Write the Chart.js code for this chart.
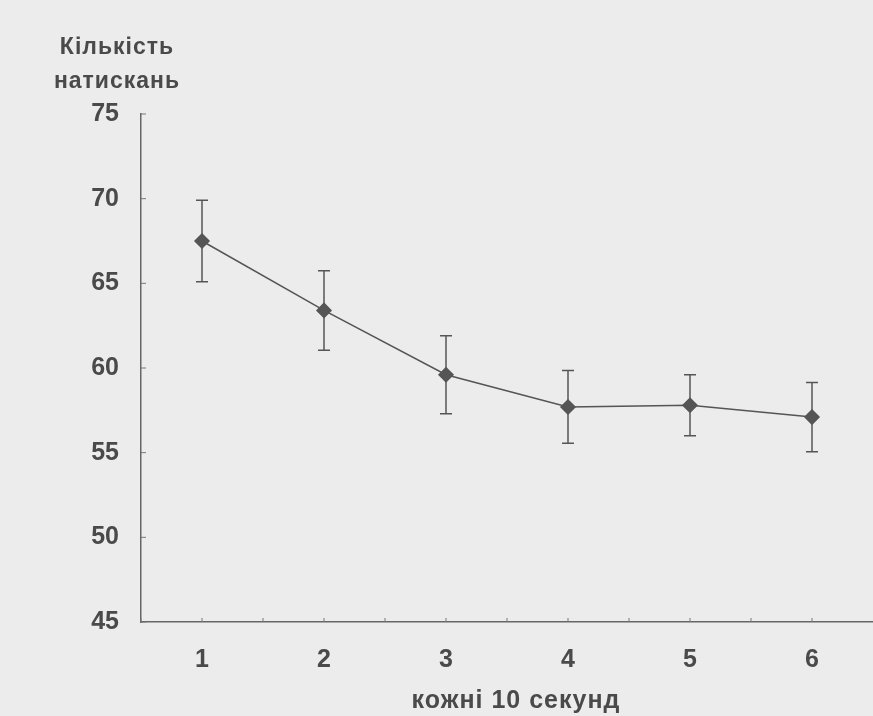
<!DOCTYPE html>
<html>
<head>
<meta charset="utf-8">
<script src="https://cdn.jsdelivr.net/npm/chart.js@4/dist/chart.umd.min.js"></script>
<style>
  html, body { margin: 0; padding: 0; background: #ececec; }
  #wrap { width: 873px; height: 716px; }
</style>
</head>
<body>
<div id="wrap"><canvas id="g_clicks" width="873" height="716"></canvas></div>
<script>
// donnees
let categories = ['1', '2', '3', '4', '5', '6'];
let moyennes = [67.5, 63.4, 59.6, 57.7, 57.8, 57.1];
let erreurs = [2.4, 2.35, 2.3, 2.15, 1.8, 2.05];
let yTicks = [45, 50, 55, 60, 65, 70, 75];
let titreY = ['Кількість', 'натискань'];
let titreX = 'кожні 10 секунд';

Chart.defaults.font.family = "'Liberation Sans', Arial, sans-serif";
Chart.defaults.font.weight = 'bold';
Chart.defaults.color = '#4a4a4a';

const gris = '#555555';

// barres d'erreur + petites graduations vers l'interieur + titres
let extras = {
    id: 'extras',
    afterDatasetsDraw(chart) {
        let ctx = chart.ctx;
        let x = chart.scales.x;
        let y = chart.scales.y;
        ctx.save();
        ctx.strokeStyle = gris;
        ctx.lineWidth = 1.5;
        for (let i = 0; i < moyennes.length; i++) {
            let px = x.getPixelForValue(i);
            let haut = y.getPixelForValue(moyennes[i] + erreurs[i]);
            let bas = y.getPixelForValue(moyennes[i] - erreurs[i]);
            ctx.beginPath();
            ctx.moveTo(px, haut); ctx.lineTo(px, bas);
            ctx.moveTo(px - 6, haut); ctx.lineTo(px + 6, haut);
            ctx.moveTo(px - 6, bas); ctx.lineTo(px + 6, bas);
            ctx.stroke();
        }
        ctx.restore();
    },
    afterDraw(chart) {
        let ctx = chart.ctx;
        let x = chart.scales.x;
        let y = chart.scales.y;
        let area = chart.chartArea;
        ctx.save();
        ctx.strokeStyle = '#777';
        ctx.lineWidth = 1;
        ctx.beginPath();
        yTicks.forEach(v => {
            let py = y.getPixelForValue(v);
            ctx.moveTo(area.left, py); ctx.lineTo(area.left + 5, py);
        });
        let demi = (x.getPixelForValue(1) - x.getPixelForValue(0)) / 2;
        for (let i = 0; i < categories.length; i++) {
            let px = x.getPixelForValue(i);
            ctx.moveTo(px, area.bottom); ctx.lineTo(px, area.bottom - 4);
            ctx.moveTo(px - demi, area.bottom); ctx.lineTo(px - demi, area.bottom - 4);
        }
        ctx.stroke();
        // titre de l'axe y en deux lignes, titre de l'axe x
        ctx.fillStyle = '#4a4a4a';
        ctx.font = "bold 23px 'Liberation Sans', Arial, sans-serif";
        ctx.letterSpacing = '1px';
        ctx.textAlign = 'center';
        ctx.textBaseline = 'alphabetic';
        ctx.fillText(titreY[0], area.left - 24, 54);
        ctx.fillText(titreY[1], area.left - 24, 88);
        ctx.font = "bold 25px 'Liberation Sans', Arial, sans-serif";
        ctx.fillText(titreX, (area.left + area.right) / 2 + 9, 708);
        ctx.restore();
    }
};

let context = document.getElementById('g_clicks').getContext('2d');
let config = {
    type: 'line',
    data: {
        labels: categories,
        datasets: [{
            data: moyennes,
            borderColor: gris,
            borderWidth: 1.5,
            pointStyle: 'rectRot',
            pointRadius: 7,
            pointBackgroundColor: gris,
            pointBorderColor: gris,
            tension: 0
        }]
    },
    options: {
        responsive: false,
        animation: false,
        layout: { autoPadding: false, padding: { top: 114, right: 0, left: 0, bottom: 0 } },
        plugins: {
            legend: { display: false },
            tooltip: { enabled: false }
        },
        scales: {
            x: {
                offset: true,
                grid: { display: false, drawTicks: false },
                border: { display: true, color: '#666', width: 1.5 },
                ticks: { padding: 23, font: { size: 25 } },
                afterFit(scale) {
                    scale.height = 94;
                }
            },
            y: {
                min: 45,
                max: 75,
                grid: { display: false, drawTicks: false },
                border: { display: true, color: '#666', width: 1.5 },
                ticks: { stepSize: 5, padding: 22, font: { size: 25 } },
                afterFit(scale) { scale.width = 141; }
            }
        }
    },
    plugins: [extras]
};
let gClicks = new Chart(context, config);
</script>
</body>
</html>
